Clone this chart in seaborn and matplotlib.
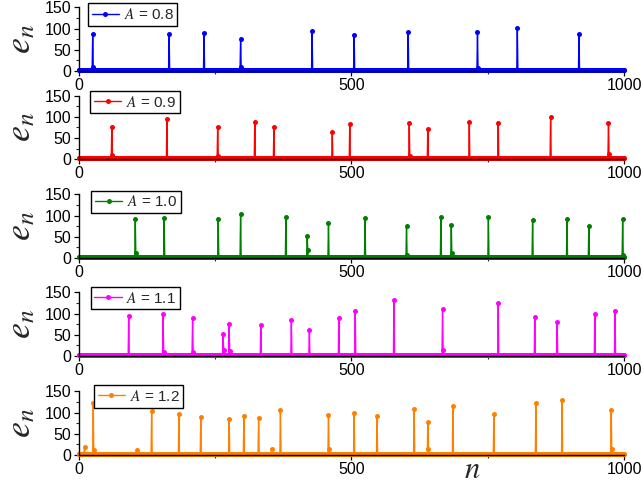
import numpy as np
import pandas as pd
import matplotlib
matplotlib.use("Agg")
import matplotlib.pyplot as plt
import seaborn as sns
from matplotlib.ticker import MultipleLocator

sns.set_theme(style="ticks")
plt.rcParams['font.family'] = ['Liberation Sans', 'DejaVu Sans']
plt.rcParams['mathtext.fontset'] = 'stix'

# ---------------- data ----------------
amplitudes = ["0.8", "0.9", "1.0", "1.1", "1.2"]
colors = ["#0000FF", "#FF0000", "#008000", "#FF00FF", "#FF8000"]
n_max = 1000
base_levels = [2, 2, 2, 2, 3]

spike_pos_08 = [26, 166, 230, 297, 428, 505, 604, 731, 804, 917]
spike_val_08 = [88, 88, 90, 75, 94, 85, 93, 91, 102, 88]
small_pos_08 = [27, 298, 732]
small_val_08 = [9, 9, 6]

spike_pos_09 = [61, 162, 255, 323, 358, 465, 497, 606, 640, 716, 769, 865, 971]
spike_val_09 = [76, 96, 77, 89, 76, 64, 83, 86, 71, 88, 85, 100, 86]
small_pos_09 = [62, 256, 607, 972]
small_val_09 = [9, 8, 7, 12]

spike_pos_10 = [104, 157, 256, 297, 380, 419, 458, 525, 601, 664, 683, 751, 832, 895, 935, 997]
spike_val_10 = [92, 95, 91, 103, 96, 52, 82, 95, 75, 96, 78, 96, 89, 92, 75, 91]
small_pos_10 = [105, 420, 684, 602, 998]
small_val_10 = [12, 20, 11, 8, 8]

spike_pos_11 = [92, 155, 209, 265, 276, 334, 390, 423, 477, 507, 578, 667, 769, 836, 877, 946, 983]
spike_val_11 = [95, 100, 89, 52, 75, 74, 84, 61, 90, 105, 132, 111, 125, 92, 81, 99, 107]
small_pos_11 = [266, 277, 668, 156, 210]
small_val_11 = [14, 12, 14, 9, 9]

spike_pos_12 = [27, 134, 184, 224, 276, 303, 330, 370, 458, 505, 547, 615, 640, 686, 761, 838, 886, 976]
spike_val_12 = [122, 104, 97, 89, 85, 93, 88, 107, 94, 100, 93, 108, 78, 115, 96, 122, 129, 107]
small_pos_12 = [11, 29, 108, 354, 459, 641, 977]
small_val_12 = [18, 12, 12, 14, 15, 15, 14]

spike_pos = [spike_pos_08, spike_pos_09, spike_pos_10, spike_pos_11, spike_pos_12]
spike_val = [spike_val_08, spike_val_09, spike_val_10, spike_val_11, spike_val_12]
small_pos = [small_pos_08, small_pos_09, small_pos_10, small_pos_11, small_pos_12]
small_val = [small_val_08, small_val_09, small_val_10, small_val_11, small_val_12]

x_ticks = [0, 500, 1000]
y_ticks = [0, 50, 100, 150]

# ---------------- layout ----------------
W, H = 644, 486
fig = plt.figure(figsize=(W / 100, H / 100), dpi=100)
left_px, right_px = 78.5, 624.3
zero_px = [71, 159.3, 258, 356, 455]
panel_h = 63.7
legend_anchor = [(0.017, 1.065), (0.021, 1.077), (0.023, 1.057), (0.022, 1.088), (0.028, 1.099)]

for i, amp in enumerate(amplitudes):
    bottom = (H - zero_px[i]) / H
    ax = fig.add_axes([left_px / W, bottom, (right_px - left_px) / W, panel_h / H])
    n = np.arange(0, n_max + 1)
    e = np.full(n.shape, float(base_levels[i]))
    e[small_pos[i]] = small_val[i]
    e[spike_pos[i]] = spike_val[i]
    df = pd.DataFrame({"n": n, "e": e})
    sns.lineplot(data=df, x="n", y="e", ax=ax, color=colors[i], marker="o",
                 markersize=3.6, markeredgewidth=0, linewidth=1.0,
                 estimator=None, label=r"$A$ = " + amp)
    for ln in ax.lines:
        ln.set_clip_on(False)
    ax.set_xlim(0, 1000)
    ax.set_ylim(0, 150)
    ax.set_xticks(x_ticks)
    ax.set_yticks(y_ticks)
    ax.xaxis.set_minor_locator(MultipleLocator(250))
    ax.yaxis.set_minor_locator(MultipleLocator(25))
    ax.tick_params(axis="both", which="major", labelsize=11.5, length=3.5, width=0.9,
                   pad=1.5, direction="out", color="black", labelcolor="black")
    ax.tick_params(axis="both", which="minor", length=2, width=0.8, direction="out")
    for s in ["top", "right"]:
        ax.spines[s].set_visible(False)
    for s in ["left", "bottom"]:
        ax.spines[s].set_linewidth(1.0)
        ax.spines[s].set_color("black")
    ax.set_ylabel(r"$e_n$", fontsize=26)
    ax.yaxis.set_label_coords(-0.074, 0.5)
    if i == len(amplitudes) - 1:
        ax.set_xlabel(r"$n$", fontsize=22)
        ax.xaxis.set_label_coords((472 - left_px) / (right_px - left_px), (zero_px[i] - 470) / panel_h)
        ax.xaxis.label.set_verticalalignment("center")
    else:
        ax.set_xlabel("")
    leg = ax.legend(loc="upper left", bbox_to_anchor=legend_anchor[i], frameon=True,
                    fancybox=False, edgecolor="black", framealpha=1, fontsize=11,
                    handlelength=1.8, handletextpad=0.3, borderpad=0.25,
                    borderaxespad=0, numpoints=1)
    leg.get_frame().set_linewidth(1.0)

fig.savefig("out.png", dpi=100)
